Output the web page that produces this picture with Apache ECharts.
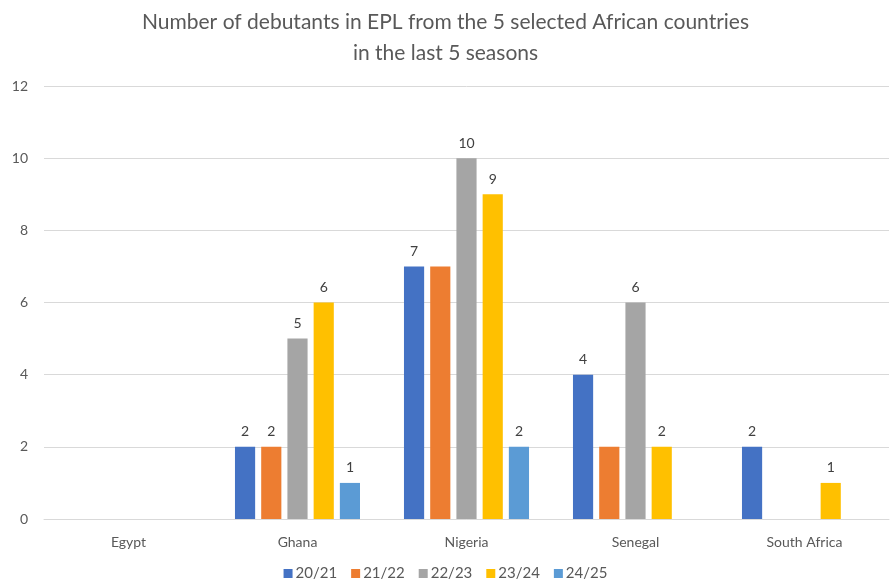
<!doctype html>
<html lang="en">
<head>
    <meta charset="utf-8">
    <title>EPL debutants</title>
    <script src="https://cdn.jsdelivr.net/npm/echarts@6.0.0/dist/echarts.min.js"></script>
</head>
<body style="margin:0;background:#fff;">
    <div id="main" style="width:891px; height:586px;"></div>
    <script type="text/javascript">
        var countries = ['Egypt', 'Ghana', 'Nigeria', 'Senegal', 'South Africa'];
        var seasons = ['20/21', '21/22', '22/23', '23/24', '24/25'];
        var s2021 = [0, 2, 7, 4, 2];
        var s2122 = [0, 2, 7, 2, 0];
        var s2223 = [0, 5, 10, 6, 0];
        var s2324 = [0, 6, 9, 2, 1];
        var s2425 = [0, 1, 2, 0, 0];
        var colors = ['#4472C4', '#ED7D31', '#A5A5A5', '#FFC000', '#5B9BD5'];
        // labels that are not shown in the original chart: [season, country]
        var noLabel = [[1, 2], [1, 3]];

        var chartDom = document.getElementById('main');
        var myChart = echarts.init(chartDom);
        var font = 'Lato, "Open Sans", sans-serif';

        var values = [s2021, s2122, s2223, s2324, s2425];
        var series = values.map(function (arr, si) {
            return {
                name: seasons[si],
                type: 'bar',
                barGap: '30%',
                barCategoryGap: '26%',
                itemStyle: { color: colors[si] },
                label: {
                    show: true,
                    position: 'top',
                    distance: 8,
                    color: '#404040',
                    fontSize: 14,
                    fontFamily: font,
                    formatter: function (p) { return p.value === 0 ? '' : p.value; }
                },
                data: arr.map(function (v, ci) {
                    var hide = noLabel.some(function (h) { return h[0] === si && h[1] === ci; });
                    return hide ? { value: v, label: { show: false } } : v;
                })
            };
        });

        var option = {
            animation: false,
            color: colors,
            title: {
                text: 'Number of debutants in EPL from the 5 selected African countries\nin the last 5 seasons',
                left: 'center',
                top: 2,
                textStyle: {
                    color: '#595959',
                    fontSize: 21,
                    fontWeight: 'normal',
                    fontFamily: font,
                    lineHeight: 31
                }
            },
            legend: {
                bottom: 0,
                left: 'center',
                itemWidth: 9,
                itemHeight: 9,
                itemGap: 14,
                icon: 'rect',
                textStyle: { color: '#595959', fontSize: 15, fontFamily: font, padding: [0, 0, 0, -2] },
                data: seasons
            },
            grid: { left: 44, right: 2, top: 86, bottom: 67, containLabel: false },
            xAxis: {
                type: 'category',
                data: countries,
                axisLine: { lineStyle: { color: '#D9D9D9', width: 1 } },
                axisTick: { show: false },
                axisLabel: { color: '#595959', fontSize: 14, fontFamily: font, margin: 16 }
            },
            yAxis: {
                type: 'value',
                min: 0,
                max: 12,
                interval: 2,
                axisLine: { show: false },
                axisTick: { show: false },
                axisLabel: { color: '#595959', fontSize: 14, fontFamily: font, margin: 16 },
                splitLine: { lineStyle: { color: '#D9D9D9', width: 1 } }
            },
            series: series
        };

        myChart.setOption(option);
    </script>
</body>
</html>
